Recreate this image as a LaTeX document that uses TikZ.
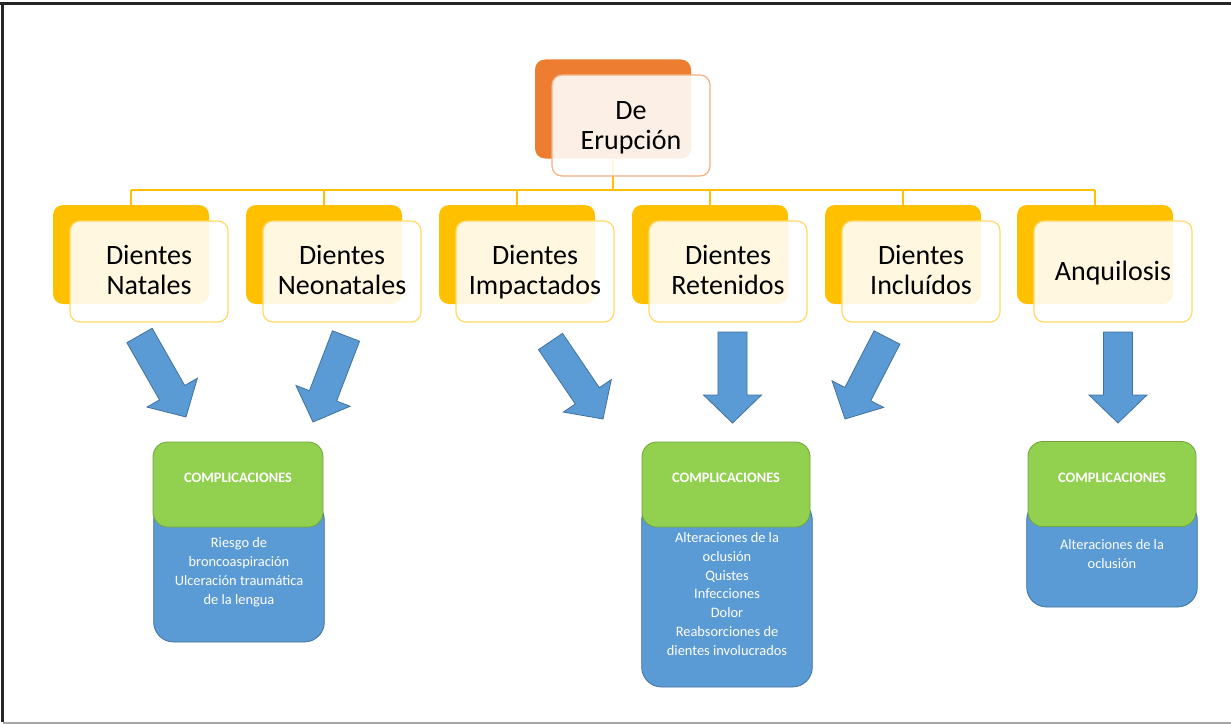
\documentclass[tikz,border=0pt]{standalone}
\usepackage{fontspec}
\setmainfont{Carlito}
\usetikzlibrary{calc}

\definecolor{orangeback}{HTML}{ED7D31}
\definecolor{orangeline}{HTML}{F4B183}
\definecolor{goldback}{HTML}{FFC000}
\definecolor{goldline}{HTML}{FFD966}
\definecolor{greenfill}{HTML}{92D050}
\definecolor{greenline}{HTML}{71A33C}
\definecolor{bluefill}{HTML}{5B9BD5}
\definecolor{blueline}{HTML}{41719C}

% block arrow from the middle of its tail (#1) to its tip (#2)
\newcommand\blockarrow[2]{%
  \path ($(#2)!21pt!(#1)$) coordinate (#1-h);
  \filldraw[fill=bluefill, draw=blueline, line width=0.6pt, line join=miter]
    ($(#1)!10.9pt!90:(#2)$) --
    ($(#1-h)!10.9pt!90:(#2)$) --
    ($(#1-h)!21.75pt!90:(#2)$) --
    (#2) --
    ($(#1-h)!21.75pt!-90:(#2)$) --
    ($(#1-h)!10.9pt!-90:(#2)$) --
    ($(#1)!10.9pt!-90:(#2)$) -- cycle;
}

\begin{document}
\begin{tikzpicture}[x=0.75pt, y=-0.75pt,
  backbox/.style={rounded corners=7.5pt, minimum width=117pt,
    minimum height=74.25pt, inner sep=0pt},
  frontbox/.style={line width=0.9pt, fill=white, fill opacity=0.88,
    rounded corners=7.5pt, minimum width=118.5pt,
    minimum height=75.75pt, inner sep=0pt},
  cardtext/.style={align=center, inner sep=0pt,
    font=\fontsize{21}{22.5}\selectfont,
    execute at begin node=\strut, execute at end node=\strut},
  busline/.style={draw=goldback, line width=0.8pt},
  headbox/.style={fill=greenfill, draw=greenline, line width=0.6pt,
    rounded corners=11pt, minimum width=126pt, minimum height=63.75pt,
    inner sep=0pt, text=white, font=\bfseries\fontsize{10.8}{12}\selectfont},
  listbox/.style={fill=bluefill, draw=blueline, line width=0.6pt,
    rounded corners=15pt, minimum width=128pt, inner sep=0pt},
  listtext/.style={text=white, align=center,
    font=\fontsize{10.8}{14.2}\selectfont},
]
\useasboundingbox (0,0) rectangle (1231,724);

% frame
\draw[black!85, line width=1.6pt] (0,3.5) -- (1231,3.5);
\draw[black!85, line width=1.6pt] (2.5,3) -- (2.5,722);
\draw[black!35, line width=1.5pt] (3,722.5) -- (1231,722.5);

% root
\node[backbox, fill=orangeback] (rootback) at (613,109) {};
\coordinate (bus) at (613,190);

% second level back plates
\foreach \i/\x in {1/131, 2/324, 3/517, 4/710, 5/903, 6/1095}
  \node[backbox, fill=goldback] (b\i) at (\x,254.5) {};

% connectors
\draw[busline] (rootback.south) -- (bus);
\draw[busline] (b1.north |- bus) -- (b6.north |- bus);
\foreach \i in {1,...,6}
  \draw[busline] (b\i.north |- bus) -- (b\i.north);

% front cards
\node[frontbox, draw=orangeline] (root) at (631,125.5) {};
\foreach \i/\x in {1/149, 2/342, 3/535, 4/728, 5/921, 6/1113}
  \node[frontbox, draw=goldline] (f\i) at (\x,271.5) {};

% card labels
\node[cardtext] (rootlabel) at ($(root.center)+(0,5)$) {De\\Erupción};
\node[cardtext] (l1) at ($(f1.center)+(0,3)$) {Dientes\\Natales};
\node[cardtext] (l2) at ($(f2.center)+(0,3)$) {Dientes\\Neonatales};
\node[cardtext] (l3) at ($(f3.center)+(0,3)$) {Dientes\\Impactados};
\node[cardtext] (l4) at ($(f4.center)+(0,3)$) {Dientes\\Retenidos};
\node[cardtext] (l5) at ($(f5.center)+(0,3)$) {Dientes\\Incluídos};
\node[cardtext] (l6) at ($(f6.center)+(0,3)$) {Anquilosis};

% arrows
\coordinate (t1) at (139.5,335.5);  \coordinate (p1) at (186,417);
\coordinate (t2) at (346,336);      \coordinate (p2) at (313,422);
\coordinate (t3) at (550.5,341.5);  \coordinate (p3) at (603,419);
\coordinate (t4) at (732.5,332);    \coordinate (p4) at (732.5,423);
\coordinate (t5) at (887,337.5);    \coordinate (p5) at (845,419);
\coordinate (t6) at (1118,332);     \coordinate (p6) at (1118,423);
\blockarrow{t1}{p1}
\blockarrow{t2}{p2}
\blockarrow{t3}{p3}
\blockarrow{t4}{p4}
\blockarrow{t5}{p5}
\blockarrow{t6}{p6}

% complications
\node[listbox, minimum height=106.5pt] (la) at (239,571) {};
\node[listbox, minimum height=140.25pt] (lb) at (727,593.5) {};
\node[listbox, minimum height=80.25pt] (lc) at (1112,553.5) {};
\node[headbox, minimum width=127.5pt] (ha) at (238,484.5) {\raisebox{10pt}{COMPLICACIONES}};
\node[headbox] (hb) at (726,484.5) {\raisebox{10pt}{COMPLICACIONES}};
\node[headbox] (hc) at (1112,484) {\raisebox{10pt}{COMPLICACIONES}};

\node[listtext] (xa) at (239,572) {Riesgo de\\broncoaspiración\\Ulceración traumática\\de la lengua};
\node[listtext] (xb) at (727,594) {Alteraciones de la\\oclusión\\Quistes\\Infecciones\\Dolor\\Reabsorciones de\\dientes involucrados};
\node[listtext] (xc) at (1112,554) {Alteraciones de la\\oclusión};
\end{tikzpicture}
\end{document}
